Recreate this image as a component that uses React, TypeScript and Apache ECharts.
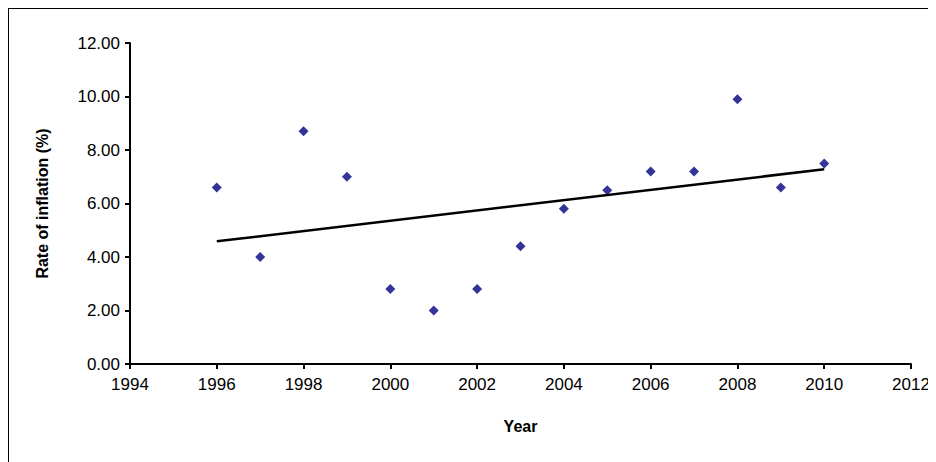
import React, { useEffect, useRef } from "react";
import * as echarts from "echarts";

const years = [1996, 1997, 1998, 1999, 2000, 2001, 2002, 2003, 2004, 2005, 2006, 2007, 2008, 2009, 2010];
const inflation = [6.6, 4.0, 8.7, 7.0, 2.8, 2.0, 2.8, 4.4, 5.8, 6.5, 7.2, 7.2, 9.9, 6.6, 7.5];

function trend(xs: number[], ys: number[]) {
  const n = xs.length;
  const mx = xs.reduce((a, b) => a + b, 0) / n;
  const my = ys.reduce((a, b) => a + b, 0) / n;
  let sxy = 0, sxx = 0;
  xs.forEach((x, i) => { sxy += (x - mx) * (ys[i] - my); sxx += (x - mx) ** 2; });
  const b = sxy / sxx;
  const a = my - b * mx;
  return [[xs[0], a + b * xs[0]], [xs[n - 1], a + b * xs[n - 1]]];
}

export default function App() {
  const ref = useRef<HTMLDivElement>(null);
  useEffect(() => {
    const chart = echarts.init(ref.current!, null, { renderer: "svg" });
    const font = "Liberation Sans, Arial, sans-serif";
    chart.setOption({
      animation: false,
      textStyle: { fontFamily: font },
      grid: { left: 121, top: 34, width: 781, height: 321 },
      xAxis: {
        type: "value", min: 1994, max: 2012, interval: 2,
        name: "Year", nameLocation: "middle", nameGap: 54,
        nameTextStyle: { fontFamily: font, fontWeight: "bold", fontSize: 16, color: "#000" },
        axisLine: { lineStyle: { color: "#000", width: 2 } },
        axisTick: { lineStyle: { color: "#000", width: 2 }, length: 5 },
        axisLabel: { color: "#000", fontSize: 17, margin: 12, fontFamily: font, formatter: (v: number) => String(v) },
        splitLine: { show: false },
      },
      yAxis: {
        type: "value", min: 0, max: 12, interval: 2,
        name: "Rate of inflation (%)", nameLocation: "middle", nameGap: 80,
        nameTextStyle: { fontFamily: font, fontWeight: "bold", fontSize: 16, color: "#000" },
        axisLine: { show: true, lineStyle: { color: "#000", width: 2 } },
        axisTick: { show: true, lineStyle: { color: "#000", width: 2 }, length: 5 },
        axisLabel: { color: "#000", fontSize: 17, margin: 10, fontFamily: font, formatter: (v: number) => v.toFixed(2) },
        splitLine: { show: false },
      },
      series: [
        {
          type: "scatter", symbol: "diamond", symbolSize: 10,
          itemStyle: { color: "#000080" },
          data: years.map((y, i) => [y, inflation[i]]),
        },
        {
          type: "line", symbol: "none", lineStyle: { color: "#000", width: 2.5 },
          data: trend(years, inflation),
        },
      ],
    });
    return () => chart.dispose();
  }, []);
  return <div ref={ref} style={{ width: 924, height: 470, border: "1px solid #000" }} />;
}
